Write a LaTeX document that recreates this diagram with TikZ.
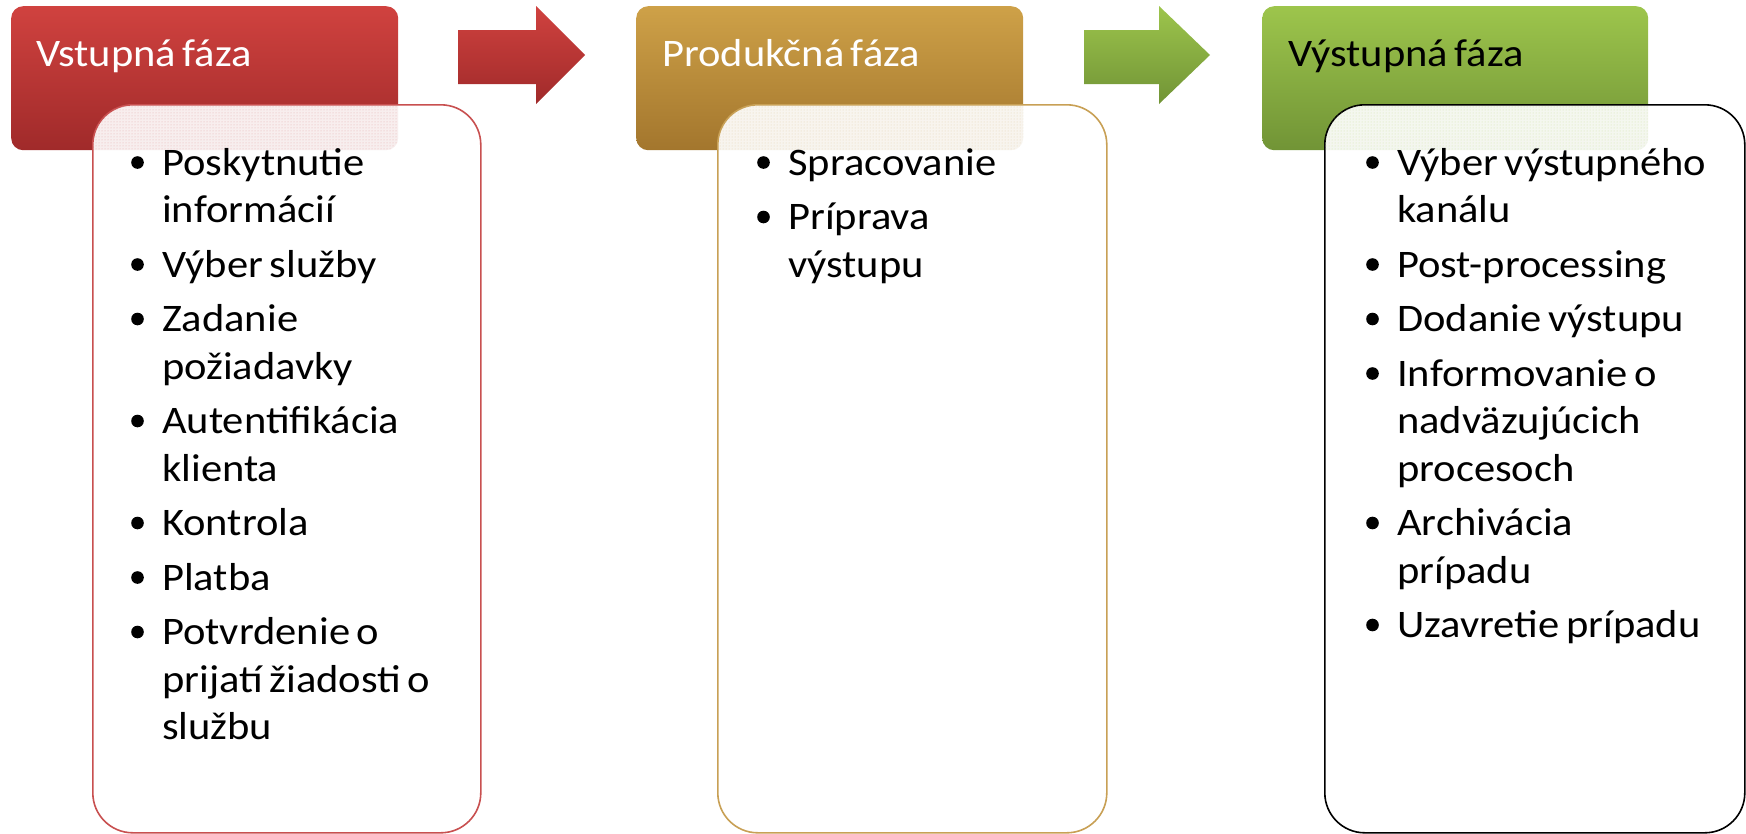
\documentclass[tikz,border=0pt]{standalone}
\usepackage{fontspec}
\usetikzlibrary{patterns}
\setmainfont{Carlito}[FakeStretch=1.09]
\newcommand\bdot{\makebox[30pt][l]{\hspace{-1pt}\tikz[baseline=0pt]\fill (6.5pt,12.5pt) circle[radius=6.3pt];}}
\newcommand\bitem[1]{\noindent\hangindent=30pt\hangafter=1\bdot#1\par}
\newcommand\listsetup{\raggedright\setlength{\parskip}{7pt}\setlength{\spaceskip}{0.17em}}
\newcommand\titlefont{\fontsize{39}{47}\selectfont\setlength{\spaceskip}{0.17em}}
\definecolor{redT}{RGB}{208,66,63}
\definecolor{redB}{RGB}{160,42,42}
\definecolor{redL}{RGB}{200,80,80}
\definecolor{goldT}{RGB}{206,161,72}
\definecolor{goldB}{RGB}{163,118,45}
\definecolor{goldL}{RGB}{200,160,85}
\definecolor{greenT}{RGB}{157,197,76}
\definecolor{greenB}{RGB}{113,148,54}
\begin{document}
\begin{tikzpicture}[x=1pt,y=-1pt,
  header/.style={rounded corners=12pt, draw=none, minimum width=387pt, minimum height=144pt, anchor=north west, inner sep=0pt},
  listbox/.style={rounded corners=40pt, fill=white, fill opacity=0.92, line width=1.6pt, minimum height=728pt, anchor=north west, inner sep=0pt},
  title/.style={anchor=base west, inner sep=0pt, font=\titlefont},
  listtext/.style={anchor=base west, inner sep=0pt, text width=360pt, font=\fontsize{39}{47.5}\selectfont},
  blockarrow/.style={draw=none},
  dotted overlap/.style={pattern=dots, rounded corners=40pt}
]
\useasboundingbox (0,0) rectangle (1746,833);

% headers
\node[header, top color=redT, bottom color=redB] (h1) at (11,6) {};
\node[header, top color=goldT, bottom color=goldB] (h2) at (636,6) {};
\node[header, top color=greenT, bottom color=greenB, minimum width=386pt] (h3) at (1262,6) {};

% block arrows
\path[blockarrow, top color=redT, bottom color=redB]
  (458,30) -- (536,30) -- (536,6) -- (585,55) -- (536,104) -- (536,84) -- (458,84) -- cycle;
\path[blockarrow, top color=greenT, bottom color=greenB]
  (1084,30) -- (1159,30) -- (1159,6) -- (1210,55) -- (1159,104) -- (1159,84) -- (1084,84) -- cycle;

% list boxes
\node[listbox, draw=redL, minimum width=388pt] (b1) at (92,104) {};
\node[listbox, draw=goldL, minimum width=389pt] (b2) at (717,104) {};
\node[listbox, draw=black, minimum width=420pt] (b3) at (1324,104) {};

% dotted texture where the boxes overlap the headers
\begin{scope}
  \clip[rounded corners=12pt] (11,6) rectangle (398,150);
  \fill[dotted overlap, pattern color=redL!45] (93,105) rectangle (479,831);
\end{scope}
\begin{scope}
  \clip[rounded corners=12pt] (636,6) rectangle (1023,150);
  \fill[dotted overlap, pattern color=goldL!45] (718,105) rectangle (1105,831);
\end{scope}
\begin{scope}
  \clip[rounded corners=12pt] (1262,6) rectangle (1648,150);
  \fill[dotted overlap, pattern color=greenT!45] (1325,105) rectangle (1744,831);
\end{scope}

% titles
\node[title, text=white] (t1) at (36,66) {Vstupná fáza};
\node[title, text=white] (t2) at (662,66) {Produkčná fáza};
\node[title, text=black] (t3) at (1288,66) {Výstupná fáza};

% lists
\node[listtext] (l1) at (132,175) {\listsetup
\bitem{Poskytnutie\newline informácií}
\bitem{Výber služby}
\bitem{Zadanie\newline požiadavky}
\bitem{Autentifikácia\newline klienta}
\bitem{Kontrola}
\bitem{Platba}
\bitem{Potvrdenie o\newline prijatí žiadosti o\newline službu}};

\node[listtext] (l2) at (758,175) {\listsetup
\bitem{Spracovanie}
\bitem{Príprava\newline výstupu}};

\node[listtext] (l3) at (1367,175) {\listsetup
\bitem{Výber výstupného\newline kanálu}
\bitem{Post-processing}
\bitem{Dodanie výstupu}
\bitem{Informovanie o\newline nadväzujúcich\newline procesoch}
\bitem{Archivácia\newline prípadu}
\bitem{Uzavretie prípadu}};
\end{tikzpicture}
\end{document}
